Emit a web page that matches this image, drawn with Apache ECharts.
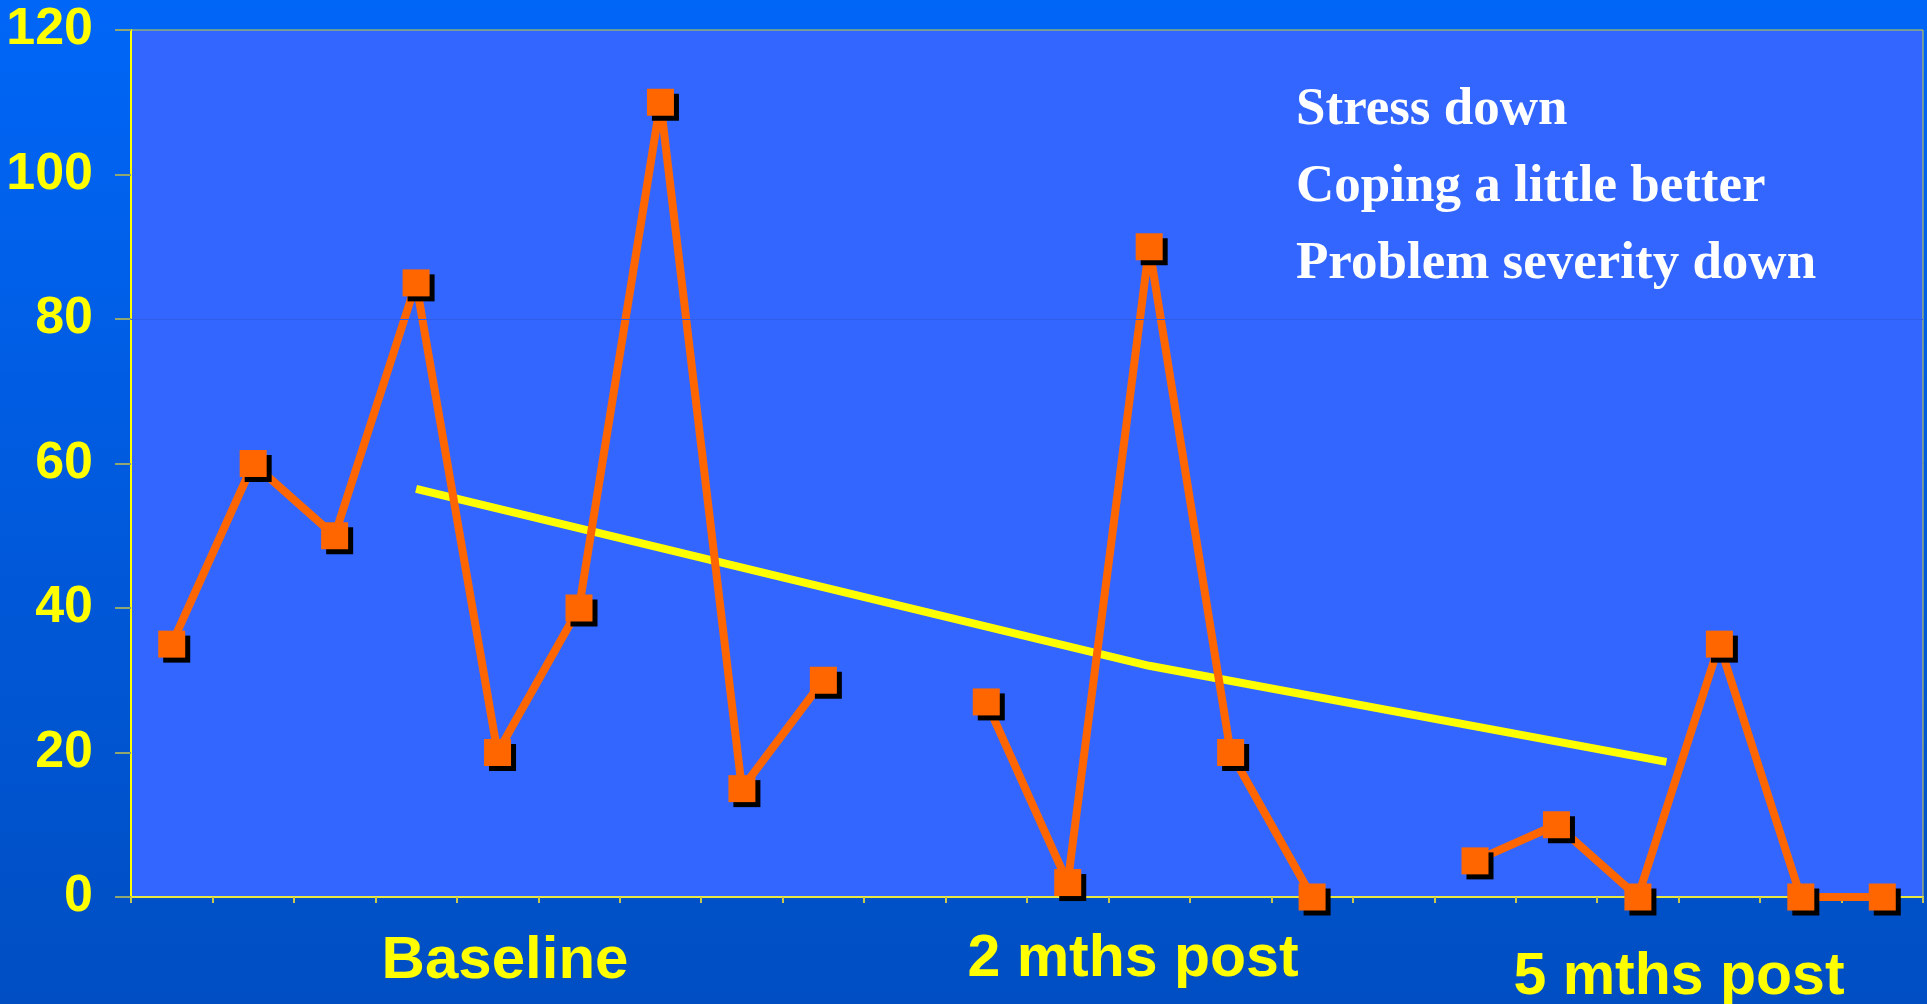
<!DOCTYPE html>
<html>
<head>
<meta charset="utf-8">
<script src="https://cdn.jsdelivr.net/npm/echarts@6/dist/echarts.min.js"></script>
<style>
  html, body { margin: 0; padding: 0; }
  #chart { width: 1927px; height: 1004px; }
</style>
</head>
<body>
<div id="chart"></div>
<script>
// Data
const sessions = ['1', '2', '3', '4', '5', '6', '7', '8', '9', '10', '11',
  '12', '13', '14', '15', '16', '17', '18', '19', '20', '21', '22'];
// null = gap between the three phases
const scores = [35, 60, 50, 85, 20, 40, 110, 15, 30, null,
  27, 2, 90, 20, 0, null,
  5, 10, 0, 35, 0, 0];
// trend line, x given as session number (1-based)
const trendX = [4, 13, 19.35];
const trendY = [56.5, 32, 18.7];
const yTicks = [0, 20, 40, 60, 80, 100, 120];
const phaseLabels = ['Baseline', '2 mths post', '5 mths post'];
const notes = ['Stress down', 'Coping a little better', 'Problem severity down'];

const chart = echarts.init(document.getElementById('chart'));

const yellow = '#FFFF00';
const orange = '#FF6600';

const phaseText = (text, x, y, size) => ({
  type: 'text',
  x,
  y,
  style: {
    text, fill: yellow, align: 'center', verticalAlign: 'middle',
    font: 'bold ' + size + 'px "Liberation Sans", Arial, sans-serif'
  }
});

const option = {
  animation: false,
  backgroundColor: new echarts.graphic.LinearGradient(0, 0, 0, 1, [
    { offset: 0, color: '#0066F7' },
    { offset: 1, color: '#004EC2' }
  ]),
  grid: {
    left: 131, top: 30, right: 4, bottom: 107,
    show: true,
    backgroundColor: '#3366FF',
    borderColor: '#C8D040',
    borderWidth: 1
  },
  xAxis: [
    {
      type: 'category',
      data: sessions,
      boundaryGap: true,
      axisLine: { lineStyle: { color: '#E8E840', width: 2 } },
      axisTick: { show: true, interval: 0, length: 6, lineStyle: { color: '#C8C850', width: 2 } },
      axisLabel: { show: false }
    },
    {
      // hidden value axis lined up with the category centres, for the trend line
      type: 'value',
      show: false,
      min: 0.5,
      max: sessions.length + 0.5
    }
  ],
  yAxis: {
    type: 'value',
    min: yTicks[0],
    max: yTicks[yTicks.length - 1],
    interval: 20,
    axisLine: { show: true, lineStyle: { color: yellow, width: 2 } },
    axisTick: { show: true, length: 16, lineStyle: { color: '#90A870', width: 2 } },
    splitLine: { show: false },
    axisLabel: {
      color: yellow,
      fontFamily: 'Liberation Sans, Arial, sans-serif',
      fontWeight: 'bold',
      fontSize: 52,
      margin: 38
    }
  },
  series: [
    {
      type: 'line',
      data: [],
      xAxisIndex: 0,
      markLine: {
        silent: true,
        symbol: 'none',
        label: { show: false },
        lineStyle: { color: '#2F5EEA', width: 1, type: 'solid' },
        data: [{ yAxis: 80 }]
      }
    },
    {
      name: 'trend',
      type: 'line',
      xAxisIndex: 1,
      data: trendX.map((x, i) => [x, trendY[i]]),
      showSymbol: false,
      lineStyle: { color: yellow, width: 8, cap: 'butt' },
      z: 2
    },
    {
      name: 'score',
      type: 'line',
      xAxisIndex: 0,
      data: scores,
      connectNulls: false,
      symbol: 'rect',
      symbolSize: 27,
      lineStyle: { color: orange, width: 8 },
      itemStyle: {
        color: orange,
        shadowColor: '#000000',
        shadowBlur: 0,
        shadowOffsetX: 5,
        shadowOffsetY: 5
      },
      z: 3
    }
  ],
  graphic: [
    phaseText(phaseLabels[0], 505, 961, 60),
    phaseText(phaseLabels[1], 1133, 960, 59),
    phaseText(phaseLabels[2], 1679, 978, 59)
  ].concat(notes.map((t, i) => ({
    type: 'text',
    x: 1296,
    y: 110 + i * 77,
    style: {
      text: t, fill: '#FFFFFF', align: 'left', verticalAlign: 'middle',
      font: 'bold 53px "Liberation Serif", "Times New Roman", serif'
    }
  })))
};

chart.setOption(option);
</script>
</body>
</html>
